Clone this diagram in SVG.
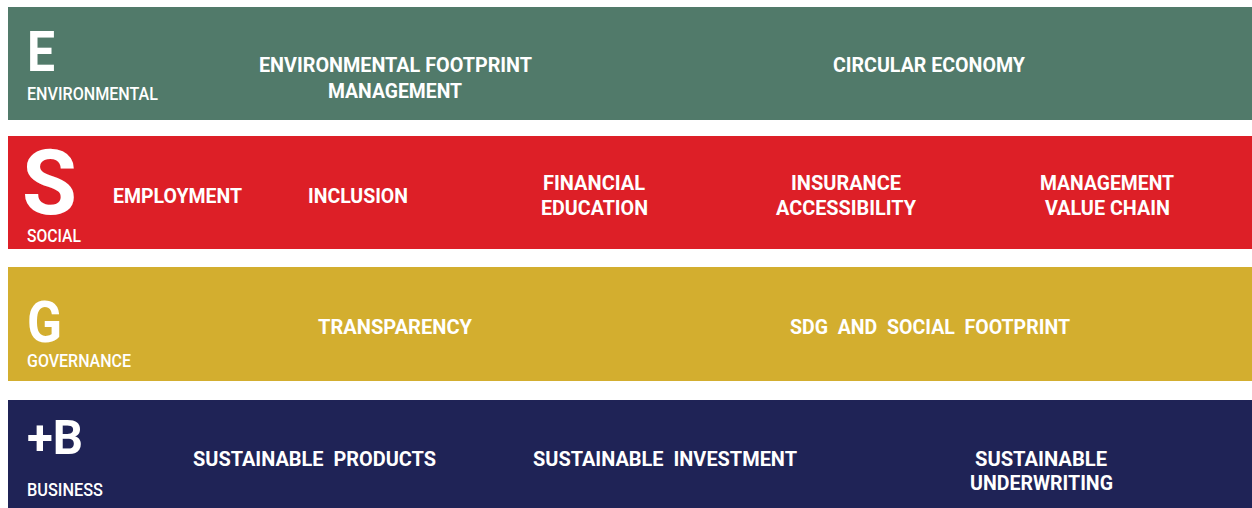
<svg xmlns="http://www.w3.org/2000/svg" width="1252" height="508" viewBox="0 0 1252 508">
<style>
text{fill:#ffffff;font-family:Roboto,"Liberation Sans",sans-serif}
.big{font-weight:700}
.lab{font-size:18px;font-weight:500}
.item{font-size:20px;font-weight:700;text-anchor:middle}
.cond{font-size:20px;font-weight:700;text-anchor:middle;word-spacing:5px}
</style>
<rect width="1252" height="508" fill="#ffffff"/>
<g id="environmental">
<rect x="8" y="7" width="1244" height="113" fill="#517a6a"/>
<text class="big" x="27" y="71" font-size="55" textLength="28" lengthAdjust="spacingAndGlyphs">E</text>
<text class="lab" x="27" y="100" textLength="131" lengthAdjust="spacingAndGlyphs">ENVIRONMENTAL</text>
<text class="item" x="395.5" y="72" textLength="273" lengthAdjust="spacingAndGlyphs">ENVIRONMENTAL FOOTPRINT</text>
<text class="item" x="395" y="98" textLength="134" lengthAdjust="spacingAndGlyphs">MANAGEMENT</text>
<text class="item" x="929" y="72" textLength="192" lengthAdjust="spacingAndGlyphs">CIRCULAR ECONOMY</text>
</g>
<g id="social">
<rect x="8" y="136" width="1244" height="113" fill="#dd1f27"/>
<text class="big" x="22" y="214" font-size="90" textLength="55" lengthAdjust="spacingAndGlyphs">S</text>
<text class="lab" x="27" y="242" textLength="54" lengthAdjust="spacingAndGlyphs">SOCIAL</text>
<text class="item" x="177.5" y="203" textLength="129" lengthAdjust="spacingAndGlyphs">EMPLOYMENT</text>
<text class="item" x="358" y="203" textLength="100" lengthAdjust="spacingAndGlyphs">INCLUSION</text>
<text class="item" x="594" y="190" textLength="102" lengthAdjust="spacingAndGlyphs">FINANCIAL</text>
<text class="item" x="594.5" y="215" textLength="107" lengthAdjust="spacingAndGlyphs">EDUCATION</text>
<text class="item" x="846" y="190" textLength="110" lengthAdjust="spacingAndGlyphs">INSURANCE</text>
<text class="item" x="846" y="215" textLength="140" lengthAdjust="spacingAndGlyphs">ACCESSIBILITY</text>
<text class="item" x="1107" y="190" textLength="134" lengthAdjust="spacingAndGlyphs">MANAGEMENT</text>
<text class="item" x="1107.5" y="215" textLength="125" lengthAdjust="spacingAndGlyphs">VALUE CHAIN</text>
</g>
<g id="governance">
<rect x="8" y="267" width="1244" height="114" fill="#d3ae2f"/>
<text class="big" x="27" y="342" font-size="57" textLength="35" lengthAdjust="spacingAndGlyphs">G</text>
<text class="lab" x="27" y="367" textLength="104" lengthAdjust="spacingAndGlyphs">GOVERNANCE</text>
<text class="cond" x="395" y="334" textLength="154" lengthAdjust="spacingAndGlyphs">TRANSPARENCY</text>
<text class="cond" x="930" y="334" textLength="280" lengthAdjust="spacingAndGlyphs">SDG AND SOCIAL FOOTPRINT</text>
</g>
<g id="business">
<rect x="8" y="400" width="1244" height="108" fill="#1f2356"/>
<text class="big" x="27" y="454" font-size="49" textLength="56" lengthAdjust="spacingAndGlyphs">+B</text>
<text class="lab" x="27" y="496" textLength="76" lengthAdjust="spacingAndGlyphs">BUSINESS</text>
<text class="cond" x="314.5" y="466" textLength="243" lengthAdjust="spacingAndGlyphs">SUSTAINABLE PRODUCTS</text>
<text class="cond" x="665" y="466" textLength="264" lengthAdjust="spacingAndGlyphs">SUSTAINABLE INVESTMENT</text>
<text class="cond" x="1041" y="466" textLength="132" lengthAdjust="spacingAndGlyphs">SUSTAINABLE</text>
<text class="cond" x="1041.5" y="490" textLength="143" lengthAdjust="spacingAndGlyphs">UNDERWRITING</text>
</g>
</svg>
